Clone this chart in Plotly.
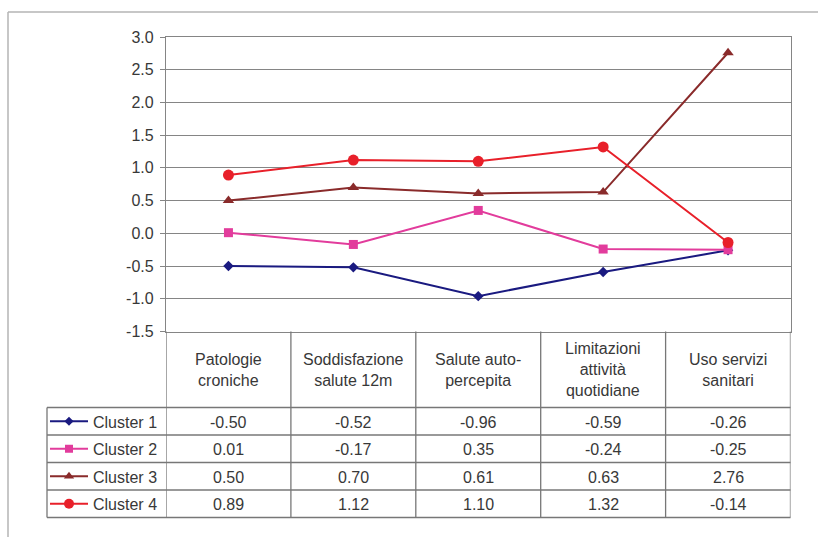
import plotly.graph_objects as go

# Indicators (table column headers) and cluster scores
categories = [
    "Patologie<br>croniche",
    "Soddisfazione<br>salute 12m",
    "Salute auto-<br>percepita",
    "Limitazioni<br>attività<br>quotidiane",
    "Uso servizi<br>sanitari",
]
series_names = ["Cluster 1", "Cluster 2", "Cluster 3", "Cluster 4"]
cluster1 = [-0.50, -0.52, -0.96, -0.59, -0.26]
cluster2 = [0.01, -0.17, 0.35, -0.24, -0.25]
cluster3 = [0.50, 0.70, 0.61, 0.63, 2.76]
cluster4 = [0.89, 1.12, 1.10, 1.32, -0.14]
y_ticks = [-1.5, -1.0, -0.5, 0.0, 0.5, 1.0, 1.5, 2.0, 2.5, 3.0]

series_values = [cluster1, cluster2, cluster3, cluster4]
colors = ["#1a1a80", "#e23c9c", "#8a2b2b", "#e8202a"]
symbols = ["diamond", "square", "triangle-up", "circle"]
msizes = [8, 9, 10, 11]

W, H = 818, 537
FONT = "Liberation Sans, Arial, sans-serif"
TXT = "#383838"
GRID = "#858585"
TABLE = "#777777"


def px(x):
    return x / W


def py(y):
    return 1 - y / H


# pixel geometry of plot area and table
PL, PR, PT, PB = 166, 790.5, 37, 331.5
LEG_L = 47
ROW_TOP = 407.5
ROW_H = 27.5
n_cat = len(cluster1)
xs = list(range(n_cat))

fig = go.Figure()

for name, vals, col, sym, ms in zip(series_names, series_values, colors, symbols, msizes):
    fig.add_trace(go.Scatter(
        x=xs, y=vals, mode="lines+markers", name=name,
        line=dict(color=col, width=2),
        marker=dict(symbol=sym, size=ms, color=col),
        showlegend=False, cliponaxis=False,
    ))

shapes = []
annotations = []

# outer chart frame
shapes.append(dict(type="line", xref="paper", yref="paper", x0=px(8), x1=1.0,
                   y0=py(12), y1=py(12), line=dict(color="#b5b5b5", width=1.5)))
shapes.append(dict(type="line", xref="paper", yref="paper", x0=px(8), x1=px(8),
                   y0=py(12), y1=0, line=dict(color="#b5b5b5", width=1.5)))

table_bottom = ROW_TOP + ROW_H * len(series_names)

# vertical table rules at category boundaries
for i in range(n_cat + 1):
    shapes.append(dict(type="line", xref="x", yref="paper", x0=i - 0.5, x1=i - 0.5,
                       y0=py(PB), y1=py(table_bottom), line=dict(color=TABLE, width=1.3)))
# legend column left rule
shapes.append(dict(type="line", xref="paper", yref="paper", x0=px(LEG_L), x1=px(LEG_L),
                   y0=py(ROW_TOP), y1=py(table_bottom), line=dict(color=TABLE, width=1.3)))
# horizontal table rules
for r in range(len(series_names) + 1):
    yy = ROW_TOP + r * ROW_H
    shapes.append(dict(type="line", xref="paper", yref="paper", x0=px(LEG_L), x1=px(PR),
                       y0=py(yy), y1=py(yy), line=dict(color=TABLE, width=1.3)))

# header cells
for i, cat in enumerate(categories):
    annotations.append(dict(x=i, xref="x", y=py((PB + ROW_TOP) / 2), yref="paper",
                            xanchor="center", yanchor="middle",
                            text=cat, showarrow=False, align="center",
                            font=dict(family=FONT, size=16, color=TXT)))

# value rows with legend keys
for r, (name, vals, col, sym, ms) in enumerate(zip(series_names, series_values, colors, symbols, msizes)):
    yc = ROW_TOP + r * ROW_H + ROW_H / 2
    for i, v in enumerate(vals):
        annotations.append(dict(x=i, xref="x", y=py(yc + 1), yref="paper",
                                xanchor="center", yanchor="middle",
                                text=f"{v:.2f}", showarrow=False,
                                font=dict(family=FONT, size=16, color=TXT)))
    annotations.append(dict(x=px(91), xref="paper", y=py(yc + 1), yref="paper",
                            xanchor="left", yanchor="middle",
                            text=name, showarrow=False,
                            font=dict(family=FONT, size=16, color=TXT)))
    shapes.append(dict(type="line", xref="paper", yref="paper", x0=px(50), x1=px(88),
                       y0=py(yc), y1=py(yc), line=dict(color=col, width=2)))
    fig.add_trace(go.Scatter(
        x=[69], y=[yc], xaxis="x2", yaxis="y2", mode="markers",
        marker=dict(symbol=sym, size=ms - 1, color=col), showlegend=False, hoverinfo="skip",
        cliponaxis=False,
    ))

fig.update_layout(
    width=W, height=H,
    margin=dict(l=0, r=0, t=0, b=0, pad=0, autoexpand=False),
    paper_bgcolor="white", plot_bgcolor="rgba(0,0,0,0)",
    xaxis=dict(domain=[px(PL), px(PR)], range=[-0.5, n_cat - 0.5], automargin=False,
               showticklabels=False, showgrid=False, zeroline=False,
               showline=True, mirror=True, linecolor=GRID, linewidth=1.3, ticks=""),
    yaxis=dict(domain=[py(PB), py(PT)], range=[-1.5, 3.0], automargin=False,
               tickvals=y_ticks, ticktext=[f"{v:.1f}" for v in y_ticks],
               ticks="outside", ticklen=5, tickcolor=GRID, tickwidth=1.3,
               ticklabelstandoff=3,
               showgrid=True, gridcolor=GRID, gridwidth=1.3, zeroline=False,
               showline=True, mirror=True, linecolor=GRID, linewidth=1.3,
               tickfont=dict(family=FONT, size=16, color=TXT)),
    xaxis2=dict(domain=[0, 1], range=[0, W], visible=False, anchor="y2", automargin=False),
    yaxis2=dict(domain=[0, 1], range=[H, 0], visible=False, anchor="x2", automargin=False),
    shapes=shapes,
    annotations=annotations,
)

fig.write_html("out.html")
